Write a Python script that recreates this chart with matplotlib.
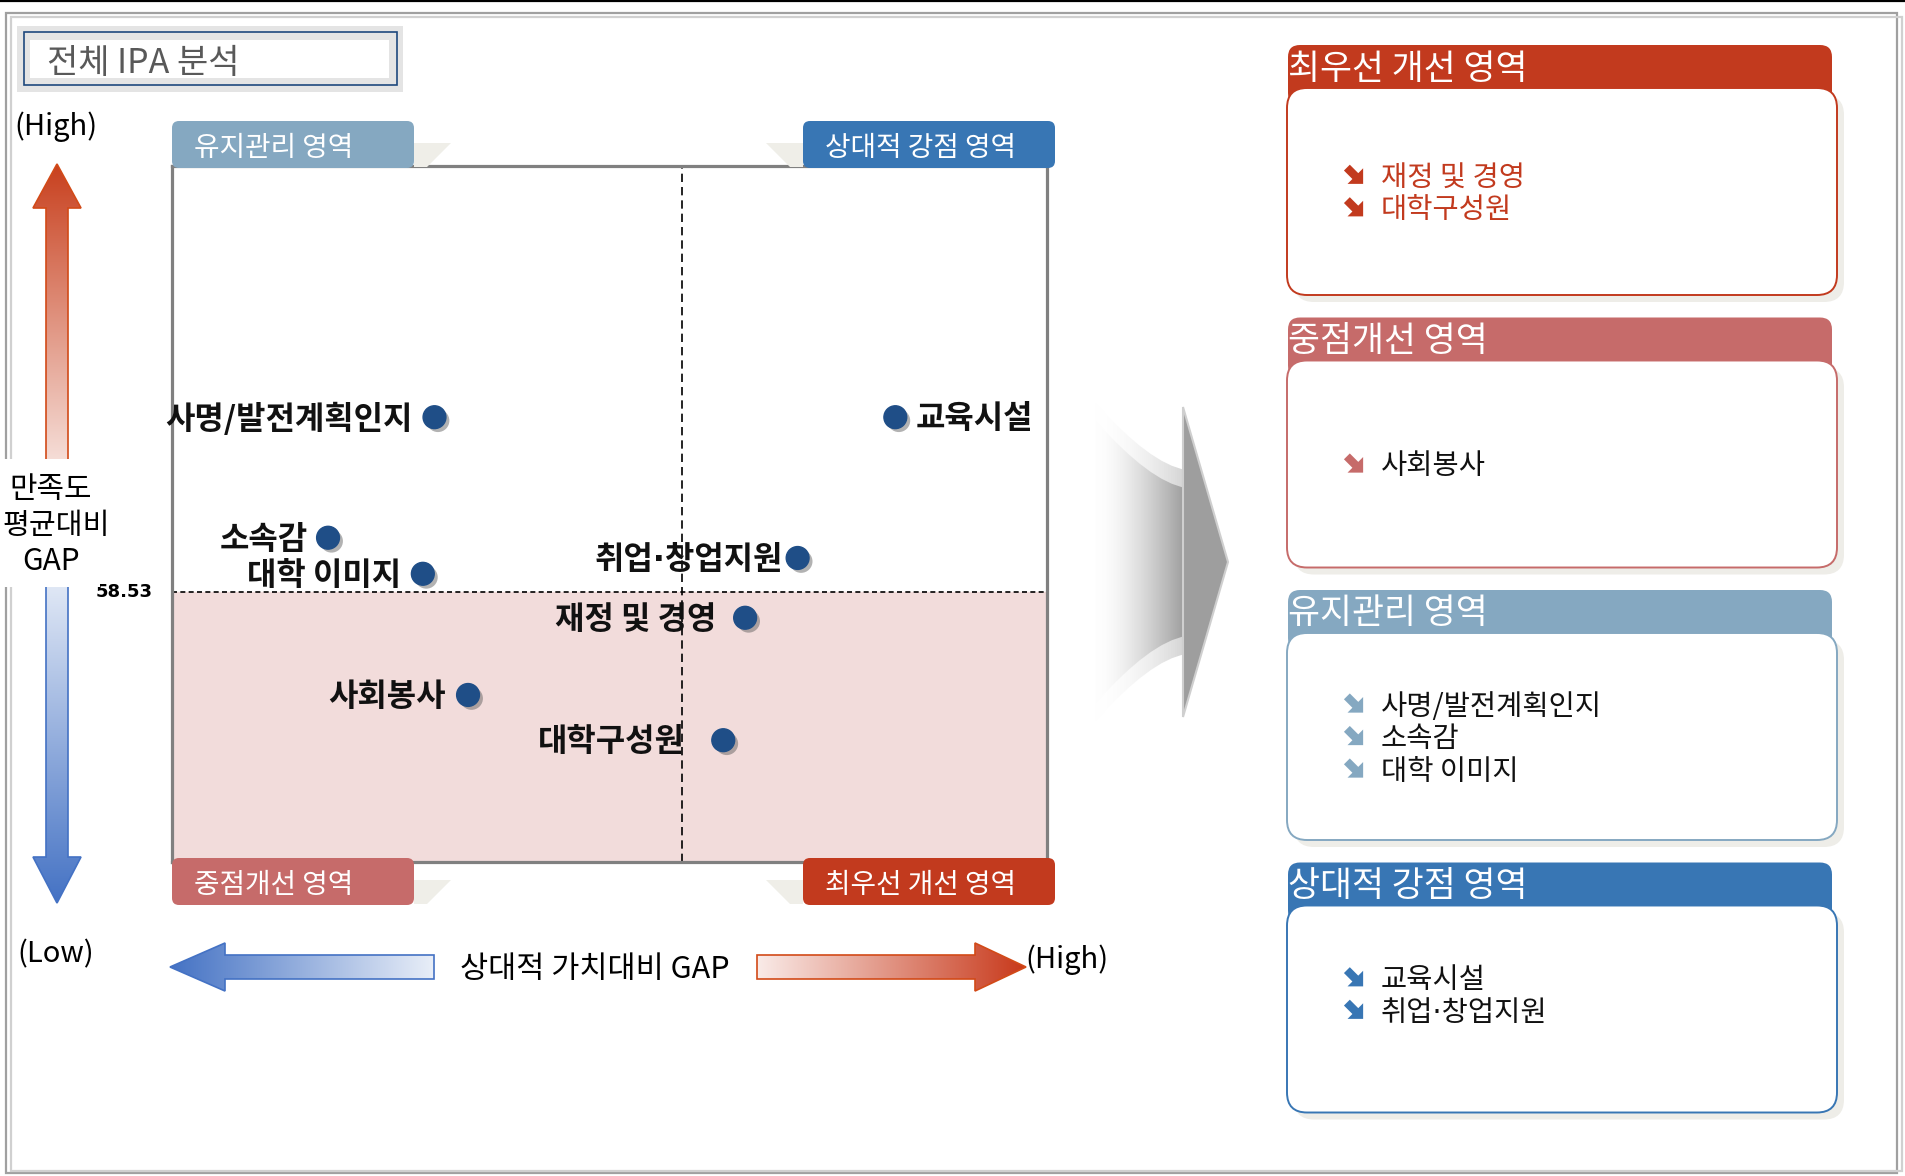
import numpy as np
import matplotlib.pyplot as plt
import matplotlib.patheffects as pe
from matplotlib.patches import Rectangle, FancyBboxPatch, Polygon, PathPatch
from matplotlib.path import Path
from matplotlib.colors import to_rgb

plt.rcParams['font.family'] = ['Noto Sans CJK KR', 'DejaVu Sans']
DOT_FONT = ['DejaVu Sans', 'Noto Sans CJK KR']  # narrow middle dot, hangul from CJK

W, H = 1906, 1176

# IPA data: relative value gap (x) and satisfaction (y)
items = ['사명/발전계획인지', '교육시설', '소속감', '대학 이미지',
         '취업·창업지원', '재정 및 경영', '사회봉사', '대학구성원']
value_gap = [-1.70, 1.46, -2.43, -1.78, 0.79, 0.43, -1.47, 0.28]
satisfaction = [64.06, 64.06, 60.25, 59.11, 59.61, 57.72, 55.28, 53.85]
mean_gap = 0.0
mean_sat = 58.53

quadrants = ['최우선 개선 영역', '중점개선 영역', '유지관리 영역', '상대적 강점 영역']
quad_colors = ['#C23A1E', '#C66B6A', '#85A8C1', '#3876B4']

# label offsets in pixels (negative = label on the left of the dot)
label_dx = [-22, 20, -20, -22, -15, -29, -22, -38]

DOT = '#1F4E87'


def quadrant_of(x, y):
    if x >= mean_gap and y < mean_sat:
        return 0
    if x < mean_gap and y < mean_sat:
        return 1
    if x < mean_gap:
        return 2
    return 3


def fam(s):
    return DOT_FONT if '·' in s else None


fig = plt.figure(figsize=(W / 100, H / 100), dpi=100)

# ---- scatter area ----
ax = fig.add_axes([172 / W, 1 - 862 / H, 875 / W, 696 / H], zorder=1)
ax.set_xlim(-3.5, 2.5)
ax.set_ylim(50, 72)
ax.axhspan(50, mean_sat, color='#F2DCDB', zorder=0)
ax.axhline(mean_sat, color='black', ls=(0, (3, 2)), lw=1.2, zorder=1)
ax.axvline(mean_gap, color='black', ls=(0, (5, 3)), lw=1.2, zorder=1)
for sp in ax.spines.values():
    sp.set_color('#808080')
    sp.set_linewidth(2.3)
ax.set_xticks([])
ax.set_yticks([])

ax.scatter(value_gap, satisfaction, s=270, color=DOT, zorder=3,
           path_effects=[pe.SimplePatchShadow(offset=(2.5, -2.5), shadow_rgbFace='#555555', alpha=0.45),
                         pe.Normal()])
for name, x, y, dx in zip(items, value_gap, satisfaction, label_dx):
    ax.annotate(name, (x, y), xytext=(dx * 0.72, -1.5), textcoords='offset points',
                ha='right' if dx < 0 else 'left', va='center', family=fam(name),
                fontsize=23, fontweight='bold', color='#111111', zorder=4)

ax.annotate(f'{mean_sat:.2f}', (0, mean_sat), xycoords=ax.get_yaxis_transform(),
            xytext=(-14, 0), textcoords='offset points', ha='right', va='center',
            fontsize=13, fontweight='bold', family=['DejaVu Sans'])

# ---- decoration canvas in pixel coordinates ----
cv = fig.add_axes([0, 0, 1, 1], zorder=2)
cv.axis('off')


def grad_fill(patch, x0, x1, y0, y1, rgba, zorder):
    cv.add_patch(patch)
    im = cv.imshow(rgba, extent=(x0, x1, y1, y0), aspect='auto',
                   interpolation='bilinear', zorder=zorder)
    im.set_clip_path(patch)


def ramp(c, t, a=None):
    c = np.array(to_rgb(c))
    rgb = 1 - t[:, None] * (1 - c)
    alpha = np.ones_like(t) if a is None else a
    return np.concatenate([rgb, alpha[:, None]], axis=1)


# outer frame
cv.plot([0, W], [1, 1], color='black', lw=1.6)
cv.add_patch(Rectangle((6, 13), 1891, 1160, fill=False, ec='#a0a0a0', lw=1.6, zorder=1))
cv.add_patch(Rectangle((11, 17), 1891, 1154, fill=False, ec='#d0d0d0', lw=1.6, zorder=1))

# title box
cv.add_patch(Rectangle((17, 26), 386, 66, fc='#e4e4e4', ec='none', zorder=2))
cv.add_patch(Rectangle((24, 32), 373, 53, fc='#e4e4e4', ec='#1F497D', lw=1.2, zorder=2))
cv.add_patch(Rectangle((30, 40), 359, 38, fc='white', ec='none', zorder=2))
cv.text(47, 63, '전체 IPA 분석', fontsize=24.5, color='#595959', va='center', zorder=3)

# vertical axis arrow
cx, top, bot, mid = 57, 164, 903, 523
varrow = [(cx, top), (cx + 24, 208), (cx + 11, 208), (cx + 11, 857), (cx + 24, 857),
          (cx, bot), (cx - 24, 857), (cx - 11, 857), (cx - 11, 208), (cx - 24, 208)]
yy = np.arange(top, bot + 1, dtype=float)
t_up = np.clip((mid - yy) / (mid - top), 0, 1)
t_dn = np.clip((yy - mid) / (bot - mid), 0, 1)
col = np.where((yy < mid)[:, None], ramp('#C8401E', t_up), ramp('#4472C4', t_dn))
grad_fill(Polygon(varrow, closed=True, fc='none', ec='none'), cx - 25, cx + 25, top, bot,
          col[:, None, :], 3)
for c, (ya, yb) in [('#D24A18', (0, mid)), ('#4472C4', (mid, H))]:
    p = Polygon(varrow, closed=True, fill=False, ec=c, lw=1.2, zorder=4)
    cv.add_patch(p)
    p.set_clip_path(Rectangle((0, ya), 200, yb - ya, transform=cv.transData))

cv.add_patch(Rectangle((0, 459), 100, 128, fc='white', ec='none', zorder=5))
cv.text(51, 490, '만족도', fontsize=21.5, ha='center', va='center', zorder=6)
cv.text(2, 526, '평균대비', fontsize=21, ha='left', va='center', zorder=6)
cv.text(51, 562, 'GAP', fontsize=21.5, ha='center', va='center', zorder=6)
cv.text(14, 127, '(High)', fontsize=21, va='center')
cv.text(17, 954, '(Low)', fontsize=21, va='center')

# horizontal axis arrows
cy = 967
larrow = [(170, cy), (225, cy - 24), (225, cy - 12), (434, cy - 12), (434, cy + 12),
          (225, cy + 12), (225, cy + 24)]
xx = np.linspace(0, 1, 256)
grad_fill(Polygon(larrow, closed=True, fc='none', ec='none'), 170, 434, cy - 25, cy + 25,
          ramp('#4472C4', 1 - 0.88 * xx)[None, :, :], 3)
cv.add_patch(Polygon(larrow, closed=True, fill=False, ec='#4472C4', lw=1.2, zorder=4))
rarrow = [(757, cy - 12), (975, cy - 12), (975, cy - 24), (1026, cy), (975, cy + 24),
          (975, cy + 12), (757, cy + 12)]
grad_fill(Polygon(rarrow, closed=True, fc='none', ec='none'), 757, 1026, cy - 25, cy + 25,
          ramp('#C8391B', 0.1 + 0.9 * xx)[None, :, :], 3)
cv.add_patch(Polygon(rarrow, closed=True, fill=False, ec='#D24A18', lw=1.2, zorder=4))
cv.text(595, cy + 2, '상대적 가치대비 GAP', fontsize=22, ha='center', va='center')
cv.text(1025, 960, '(High)', fontsize=21, va='center')

# quadrant tags around the plot
tags = [(172, 121, 2, 'left'), (803, 121, 3, 'right'), (172, 858, 1, 'left'), (803, 858, 0, 'right')]
for x0, y0, q, side in tags:
    if side == 'left':
        fold = [(x0 + 242, y0 + 22), (x0 + 279, y0 + 22), (x0 + 255, y0 + 46), (x0 + 242, y0 + 46)]
    else:
        fold = [(x0, y0 + 22), (x0 - 37, y0 + 22), (x0 - 13, y0 + 46), (x0, y0 + 46)]
    cv.add_patch(Polygon(fold, closed=True, fc='#EFEEE8', ec='none', zorder=2))
    cv.add_patch(FancyBboxPatch((x0, y0), 252 if side == 'right' else 242, 47,
                                boxstyle='round,pad=0,rounding_size=7',
                                fc=quad_colors[q], ec='none', zorder=3))
    cv.text(x0 + 22, y0 + 27, quadrants[q], fontsize=20, color='white', va='center', zorder=4)

# big grey arrow in the middle
def swoosh(dy):
    verts = [(1095, 420 - dy), (1150, 482 - dy), (1186, 488 - dy), (1186, 636 + dy),
             (1150, 642 + dy), (1095, 704 + dy), (1095, 420 - dy)]
    codes = [Path.MOVETO, Path.CURVE3, Path.CURVE3, Path.LINETO,
             Path.CURVE3, Path.CURVE3, Path.CLOSEPOLY]
    return PathPatch(Path(verts, codes), fc='none', ec='none')


gx = np.linspace(0, 1, 256)
grad_fill(swoosh(18), 1095, 1187, 380, 740, ramp('#d2d2d2', gx, gx ** 0.9)[None, :, :], 2)
grad_fill(swoosh(0), 1095, 1187, 380, 740, ramp('#9a9a9a', gx, gx ** 0.8)[None, :, :], 3)
cv.add_patch(Polygon([(1183, 407), (1228, 562), (1183, 717)], closed=True,
                     fc='#9e9e9e', ec='#cfcfcf', lw=1.5, zorder=4))

# right side summary panels
def bullet(xc, yc, color):
    pts = np.array([(-0.5, -0.18), (0.02, -0.18), (0.02, -0.48), (0.5, 0), (0.02, 0.48),
                    (0.02, 0.18), (-0.5, 0.18)]) * 23
    a = np.deg2rad(45)
    rot = np.array([[np.cos(a), -np.sin(a)], [np.sin(a), np.cos(a)]])
    pts = pts @ rot.T + [xc, yc]
    cv.add_patch(Polygon(pts, closed=True, fc=color, ec='none', zorder=6))


members = [[n for n, x, y in zip(items, value_gap, satisfaction) if quadrant_of(x, y) == q]
           for q in range(4)]
panel_shift = [0, 0, 0, -15]
for q in range(4):
    top = 45 + q * 272.5
    color = quad_colors[q]
    cv.add_patch(FancyBboxPatch((1288, top), 544, 60, boxstyle='round,pad=0,rounding_size=12',
                                fc=color, ec='none', zorder=2))
    cv.add_patch(FancyBboxPatch((1294, top + 50), 550, 207, boxstyle='round,pad=0,rounding_size=20',
                                fc='#EEEDE8', ec='none', zorder=2))
    cv.add_patch(FancyBboxPatch((1287, top + 43), 550, 207, boxstyle='round,pad=0,rounding_size=20',
                                fc='white', ec=color, lw=1.4, zorder=3))
    cv.text(1288, top + 24, quadrants[q], fontsize=25, color='white', va='center', zorder=4)
    names = members[q]
    yc = top + 43 + 106 + panel_shift[q]
    for i, n in enumerate(names):
        y = yc + (i - (len(names) - 1) / 2) * 32.5
        bullet(1355, y - 2, color)
        cv.text(1381, y, n, fontsize=20.5, va='center', zorder=6, family=fam(n),
                color=quad_colors[0] if q == 0 else '#111111')

cv.set_xlim(0, W)
cv.set_ylim(H, 0)

fig.savefig('out.png', dpi=100)
